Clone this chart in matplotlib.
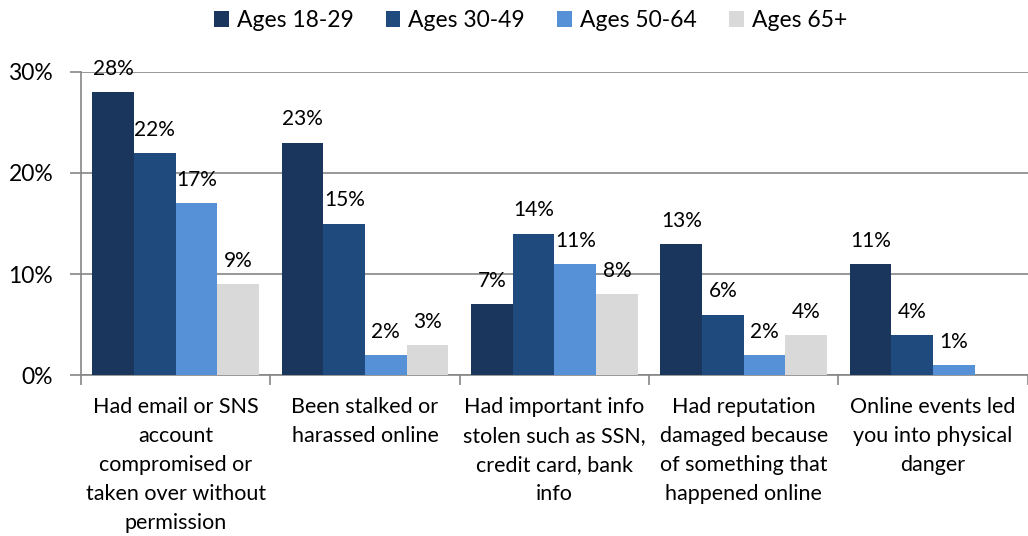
import numpy as np
import matplotlib.pyplot as plt

plt.rcParams['font.family'] = ['Lato', 'DejaVu Sans']

categories = ["Had email or SNS\naccount\ncompromised or\ntaken over without\npermission",
              "Been stalked or\nharassed online",
              "Had important info\nstolen such as SSN,\ncredit card, bank\ninfo",
              "Had reputation\ndamaged because\nof something that\nhappened online",
              "Online events led\nyou into physical\ndanger"]
series_names = ["Ages 18-29", "Ages 30-49", "Ages 50-64", "Ages 65+"]
ages_18_29 = [28, 23, 7, 13, 11]
ages_30_49 = [22, 15, 14, 6, 4]
ages_50_64 = [17, 2, 11, 2, 1]
ages_65 = [9, 3, 8, 4, 0]
colors = ["#1A365D", "#1F4A7E", "#5690D6", "#D9D9D9"]

fig = plt.figure(figsize=(10.28, 5.36), dpi=100)
ax = fig.add_axes([0.0788, 0.300, 0.921, 0.566])

x = np.arange(len(categories))
w = 0.22
for i, (vals, name) in enumerate(zip([ages_18_29, ages_30_49, ages_50_64, ages_65], series_names)):
    pos = x + (i - 1.5) * w
    ax.bar(pos, vals, width=w, color=colors[i], label=name, zorder=3)
    for p, v in zip(pos, vals):
        if v > 0:
            ax.text(p, v + 1.3, f"{v}%", ha="center", va="bottom", fontsize=15, color="#000000")

ax.set_xlim(-0.5, len(categories) - 0.5)
ax.set_ylim(0, 30)
ax.set_yticks([0, 10, 20, 30])
ax.set_yticklabels(["0%", "10%", "20%", "30%"], fontsize=16.5)
ax.yaxis.grid(True, color="#868686", linewidth=1.2, zorder=0)
ax.set_xticks(x)
ax.set_xticklabels(categories, fontsize=15.5, linespacing=1.56)
ax.tick_params(axis="x", which="major", length=0, pad=16)
ax.set_xticks(np.arange(len(categories) + 1) - 0.5, minor=True)
ax.tick_params(axis="x", which="minor", length=7, color="#868686", width=1.2)
ax.tick_params(axis="y", length=8, color="#868686", width=1.2, pad=12)
for s in ["top", "right"]:
    ax.spines[s].set_visible(False)
for s in ["left", "bottom"]:
    ax.spines[s].set_color("#868686")
    ax.spines[s].set_linewidth(1.2)

fig.legend(loc="upper center", bbox_to_anchor=(0.516, 1.02), ncol=4, frameon=False,
           fontsize=16.5, handlelength=0.65, handleheight=0.65, handletextpad=0.35, columnspacing=1.4)

fig.savefig("out.png")
